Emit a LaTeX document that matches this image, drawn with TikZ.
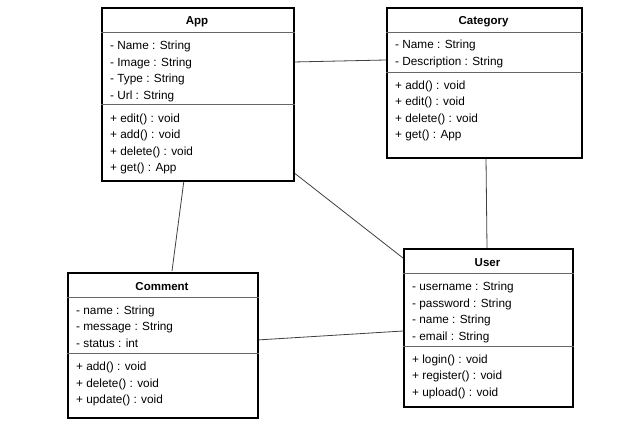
\documentclass[tikz,border=0pt]{standalone}
\usepackage{fontspec}
\setmainfont{Liberation Sans}
\begin{document}
\begin{tikzpicture}[x=1pt,y=-1pt,
  umlbox/.style={draw=black,line width=1.6pt,fill=white,inner sep=0pt,anchor=north west},
  divider/.style={draw=black!60,line width=0.9pt},
  conn/.style={draw=black!75,line width=0.8pt},
  hdr/.style={font=\fontsize{11.5}{13}\selectfont\bfseries,anchor=base,inner sep=0pt},
  item/.style={font=\fontsize{11.8}{13}\selectfont,anchor=base west,inner sep=0pt}]
\useasboundingbox (0,0) rectangle (640,439);
\fill[white] (0,0) rectangle (640,439);

% connector endpoints
\coordinate (appR) at (293,62);
\coordinate (catL) at (386,60);
\coordinate (appBR) at (293,172);
\coordinate (usrL1) at (403,258);
\coordinate (appB) at (184,180);
\coordinate (comT) at (172,271);
\coordinate (catB) at (486,157);
\coordinate (usrT) at (487,248);
\coordinate (comR) at (257,340);
\coordinate (usrL2) at (403,331);

\draw[conn] (appR) -- (catL);
\draw[conn] (appBR) -- (usrL1);
\draw[conn] (appB) -- (comT);
\draw[conn] (catB) -- (usrT);
\draw[conn] (comR) -- (usrL2);

% App
\node[umlbox,minimum width=192,minimum height=173] (app) at (101,7) {};
\draw[divider] (app.west |- 0,32) -- (app.east |- 0,32);
\draw[divider] (app.west |- 0,104) -- (app.east |- 0,104);
\node[hdr] (appH) at (197,24) {App};
\node[item] (a1) at (110,49) {- Name : String};
\node[item] (a2) at (110,66) {- Image : String};
\node[item] (a3) at (110,82) {- Type : String};
\node[item] (a4) at (110,99) {- Url : String};
\node[item] (a5) at (110,122) {+ edit() : void};
\node[item] (a6) at (110,138) {+ add() : void};
\node[item] (a7) at (110,155) {+ delete() : void};
\node[item] (a8) at (110,171) {+ get() : App};

% Category
\node[umlbox,minimum width=195,minimum height=150] (cat) at (386,7) {};
\draw[divider] (cat.west |- 0,32) -- (cat.east |- 0,32);
\draw[divider] (cat.west |- 0,72) -- (cat.east |- 0,72);
\node[hdr] (catH) at (483.5,24) {Category};
\node[item] (c1) at (395,48) {- Name : String};
\node[item] (c2) at (395,65) {- Description : String};
\node[item] (c3) at (395,89) {+ add() : void};
\node[item] (c4) at (395,105) {+ edit() : void};
\node[item] (c5) at (395,122) {+ delete() : void};
\node[item] (c6) at (395,138) {+ get() : App};

% Comment
\node[umlbox,minimum width=190,minimum height=145] (com) at (67,272) {};
\draw[divider] (com.west |- 0,297) -- (com.east |- 0,297);
\draw[divider] (com.west |- 0,353) -- (com.east |- 0,353);
\node[hdr] (comH) at (162,290) {Comment};
\node[item] (m1) at (76,314) {- name : String};
\node[item] (m2) at (76,330) {- message : String};
\node[item] (m3) at (76,347) {- status : int};
\node[item] (m4) at (76,370) {+ add() : void};
\node[item] (m5) at (76,387) {+ delete() : void};
\node[item] (m6) at (76,403) {+ update() : void};

% User
\node[umlbox,minimum width=169,minimum height=158] (usr) at (403,248) {};
\draw[divider] (usr.west |- 0,273) -- (usr.east |- 0,273);
\draw[divider] (usr.west |- 0,346) -- (usr.east |- 0,346);
\node[hdr] (usrH) at (487.5,266) {User};
\node[item] (u1) at (412,290) {- username : String};
\node[item] (u2) at (412,307) {- password : String};
\node[item] (u3) at (412,323) {- name : String};
\node[item] (u4) at (412,340) {- email : String};
\node[item] (u5) at (412,363) {+ login() : void};
\node[item] (u6) at (412,379) {+ register() : void};
\node[item] (u7) at (412,396) {+ upload() : void};
\end{tikzpicture}
\end{document}
